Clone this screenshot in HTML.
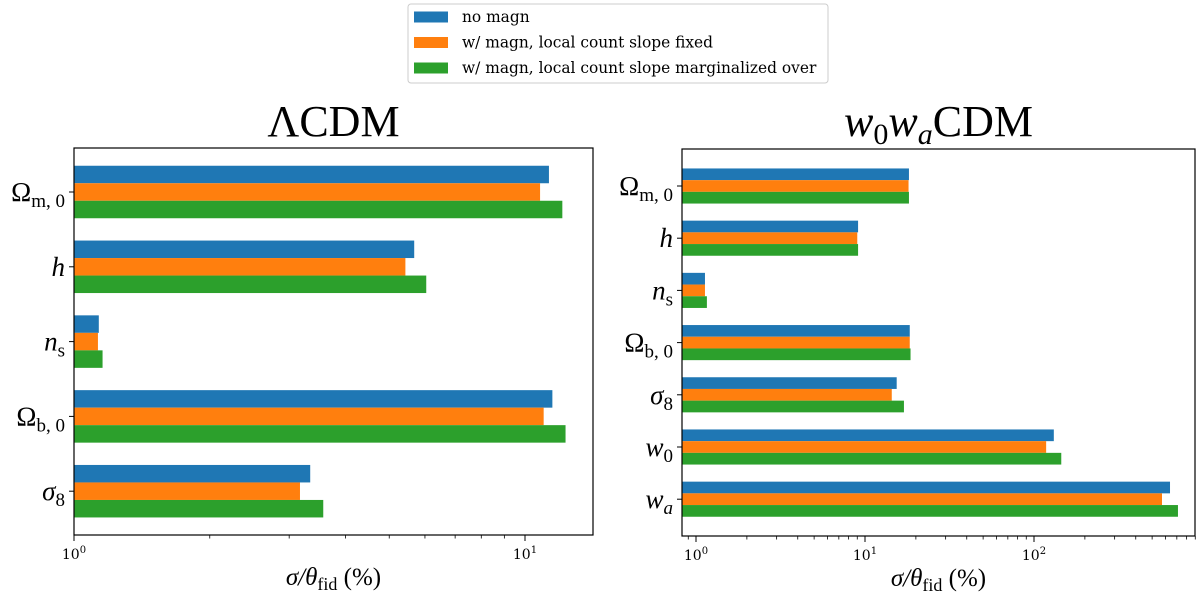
<!DOCTYPE html>
<html><head><meta charset="utf-8"><style>
body{margin:0;background:#fff;}
svg{display:block;font-family:"DejaVu Serif","Liberation Serif",serif;}
</style></head><body>
<svg id="c" width="1200" height="599" viewBox="0 0 1200 599"></svg>
<script>
const seriesNames=["no magn","w/ magn, local count slope fixed","w/ magn, local count slope marginalized over"];
const colors=["#1f77b4","#ff7f0e","#2ca02c"];
const catsL=[["Ω","m, 0",""],["h","",""],["n","s",""],["Ω","b, 0",""],["σ","8",""]];
const noMagnL=[11.3,5.68,1.135,11.5,3.34];
const fixedL=[10.8,5.43,1.13,11.0,3.17];
const margL=[12.1,6.04,1.157,12.3,3.57];
const catsR=[["Ω","m, 0"],["h",""],["n","s"],["Ω","b, 0"],["σ","8"],["w","0"],["w","a"]];
const noMagnR=[18.2,9.1,1.13,18.4,15.4,131,638];
const fixedR=[18.1,9.0,1.13,18.4,14.4,118,572];
const margR=[18.2,9.1,1.16,18.6,17.0,145,711];
const ticksL=[0,1];
const ticksR=[0,1,2];

const svg=document.getElementById('c');
const NS="http://www.w3.org/2000/svg";
function mk(t,a,p){const e=document.createElementNS(NS,t);for(const k in a)e.setAttribute(k,a[k]);(p||svg).appendChild(e);return e;}

function panel(cfg){
  const g=mk('g',{});
  
  
  const {x0,x1,y0,y1,dec0,decPx,cats,series,step,barH,firstY}=cfg;
  const xs=v=>dec0+Math.log10(v)*decPx;
  for(let d=cfg.minDec;d<=cfg.maxDec;d++){for(let m=1;m<10;m++){const v=Math.pow(10,d)*m;const px=xs(v);if(px<x0-0.5||px>x1+0.5)continue;
    const t=mk('line',{x1:px,x2:px,y1:y1,y2:y1+(m===1?6:3.5),stroke:'#000','stroke-width':m===1?1:0.8},g);
    }}
  cfg.ticks.forEach(d=>{const px=xs(Math.pow(10,d));
    const t=mk('text',{x:px,y:y1+24,'text-anchor':'middle','font-size':14},g);
    
    t.textContent='10';const s=mk('tspan',{dy:-6,'font-size':10},t);s.textContent=String(d);});
  cats.forEach((c,i)=>{const cy=firstY+i*step;
    series.forEach((arr,j)=>{const v=arr[i];
      const r=mk('rect',{x:x0,y:cy-1.5*barH+j*barH,width:xs(v)-x0,height:barH,fill:colors[j]},g);
      });
    mk('line',{x1:x0-5,x2:x0,y1:cy,y2:cy,stroke:'#000','stroke-width':1},g);
    const t=mk('text',{x:x0-9,y:cy+9,'text-anchor':'end','font-size':27,'font-family':'"Liberation Serif",serif'},g);
    
    const a=mk('tspan',{'font-style':c[0]==='Ω'?'normal':'italic'},t);a.textContent=c[0];
    if(c[1]){const b=mk('tspan',{dy:6,'font-size':19,'font-style':(c[1]==='a')?'italic':'normal'},t);b.textContent=c[1];}
  });
  const fr=mk('rect',{x:x0,y:y0,width:x1-x0,height:y1-y0,fill:'none',stroke:'#000','stroke-width':1.2},g);
  
  const xl=mk('text',{x:(x0+x1)/2,y:y1+50,'text-anchor':'middle','font-size':25,'font-family':'"Liberation Serif",serif'},g);
  
  const p1=mk('tspan',{'font-style':'italic'},xl);p1.textContent='σ/θ';
  const p2=mk('tspan',{dy:5,'font-size':18},xl);p2.textContent='fid';
  const p3=mk('tspan',{dy:-5},xl);p3.textContent=' (%)';
  const ti=mk('text',{x:(x0+x1)/2,y:cfg.titleY,'text-anchor':'middle','font-size':44,'font-family':'"Liberation Serif",serif'},g);
  
  cfg.title(ti);
}
panel({name:'lcdm-panel',short:'l',x0:74,x1:593,y0:148,y1:535,dec0:74,decPx:451,minDec:0,maxDec:1,ticks:ticksL,
  cats:catsL,series:[noMagnL,fixedL,margL],step:74.8,barH:17.5,firstY:192,titleY:136,
  title:t=>{t.textContent='ΛCDM';}});
panel({name:'w0wacdm-panel',short:'r',x0:682,x1:1195,y0:149,y1:536,dec0:696,decPx:169,minDec:-1,maxDec:2,ticks:ticksR,
  cats:catsR,series:[noMagnR,fixedR,margR],step:52.2,barH:11.7,firstY:186,titleY:136,
  title:t=>{const a=mk('tspan',{'font-style':'italic'},t);a.textContent='w';const b=mk('tspan',{dy:8,'font-size':30},t);b.textContent='0';
    const c=mk('tspan',{dy:-8,'font-style':'italic'},t);c.textContent='w';const d=mk('tspan',{dy:8,'font-size':30,'font-style':'italic'},t);d.textContent='a';
    const e=mk('tspan',{dy:-8},t);e.textContent='CDM';}});
const lg=mk('g',{});


mk('rect',{x:408,y:4,width:420,height:79,rx:3,fill:'#fff',stroke:'#ccc','stroke-width':1},lg);
seriesNames.forEach((n,j)=>{const cy=17+j*25.5;
  mk('rect',{x:414,y:cy-5.5,width:34,height:11,fill:colors[j]},lg);
  const t=mk('text',{x:462,y:cy+5,'font-size':15.4},lg);
  
  
  t.textContent=n;});
</script>
</body></html>
